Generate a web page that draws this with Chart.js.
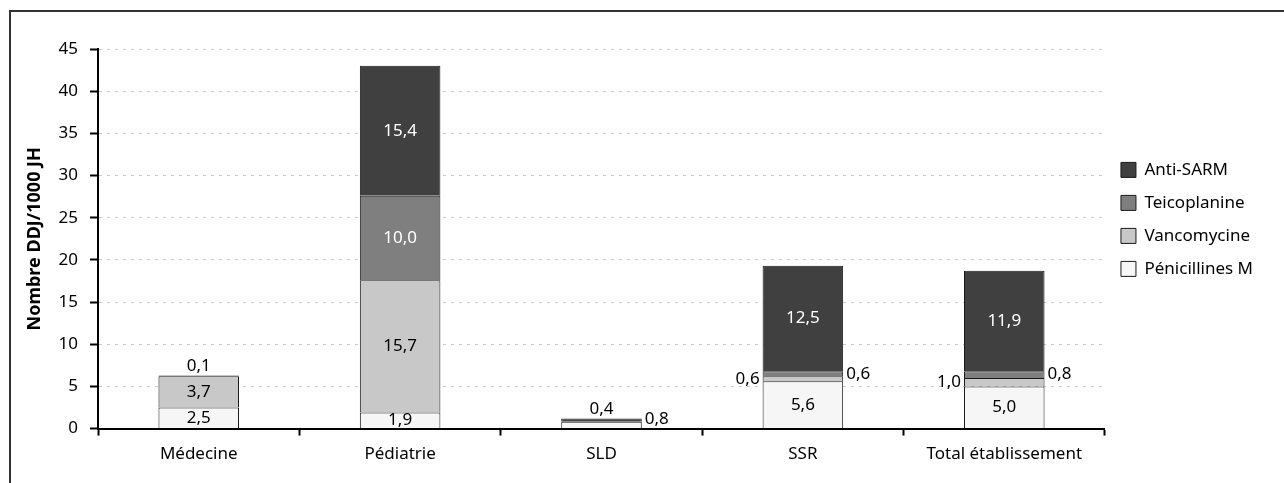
<!DOCTYPE html>
<html>
<head>
<meta charset="utf-8">
<script src="https://cdn.jsdelivr.net/npm/chart.js@4.4.1/dist/chart.umd.min.js"></script>
<style>
  html, body { margin: 0; padding: 0; background: #fff; overflow: hidden; width: 1284px; height: 483px; }
  #frame { position: absolute; left: 9px; top: 10px; width: 1400px; height: 600px; border: 2px solid #333; box-sizing: border-box; }
  #chart { position: absolute; left: 0; top: 0; }
</style>
</head>
<body>
<div id="frame"></div>
<canvas id="chart" width="1284" height="483"></canvas>
<script>
// Services and DDJ/1000 JH per antibiotic family
const categories = ['Médecine', 'Pédiatrie', 'SLD', 'SSR', 'Total établissement'];
const penicillinesM = [2.5, 1.9, 0.8, 5.6, 5.0];
const vancomycine  = [3.7, 15.7, null, 0.6, 1.0];
const teicoplanine = [null, 10.0, null, 0.6, 0.8];
const antiSARM     = [0.1, 15.4, 0.4, 12.5, 11.9];
const yTickValues  = [0, 5, 10, 15, 20, 25, 30, 35, 40, 45];
const yTitle = 'Nombre DDJ/1000 JH';

const FONT = "'Noto Sans', sans-serif";
const SIZE = 17;
Chart.defaults.font.family = FONT;
Chart.defaults.font.size = SIZE;
Chart.defaults.color = '#000';

// Writes each segment's value, inside the bar when it fits, beside or above otherwise
const segmentLabels = {
  id: 'segmentLabels',
  afterDatasetsDraw(chart, args, opts) {
    const ctx = chart.ctx;
    const zeroY = chart.scales.y.getPixelForValue(0);
    ctx.save();
    ctx.font = SIZE + 'px ' + FONT;
    chart.data.datasets.forEach((ds, di) => {
      const meta = chart.getDatasetMeta(di);
      if (meta.hidden) return;
      meta.data.forEach((bar, i) => {
        const v = ds.data[i];
        if (v == null) return;
        const p = bar.getProps(['x', 'y', 'base', 'width'], true);
        const h = Math.abs(p.base - p.y);
        const mid = (p.y + p.base) / 2;
        const text = v.toFixed(1).replace('.', ',');
        const isTop = chart.data.datasets.slice(di + 1).every(d => d.data[i] == null);
        if (h >= opts.minInside) {
          ctx.fillStyle = ds.labelColor;
          ctx.textAlign = 'center';
          ctx.textBaseline = 'middle';
          ctx.fillText(text, p.x, mid);
        } else if (isTop) {
          ctx.fillStyle = '#000';
          ctx.textAlign = 'center';
          ctx.textBaseline = 'bottom';
          ctx.fillText(text, p.x, Math.min(p.y, p.base) - 1);
        } else {
          ctx.fillStyle = '#000';
          ctx.textBaseline = 'middle';
          const ly = Math.min(mid, zeroY - 9);
          if (ds.labelSide === 'left') {
            ctx.textAlign = 'right';
            ctx.fillText(text, p.x - p.width / 2 - 3, ly);
          } else {
            ctx.textAlign = 'left';
            ctx.fillText(text, p.x + p.width / 2 + 3, ly);
          }
        }
      });
    });
    ctx.restore();
  }
};

const barStyle = { borderColor: '#1a1a1a', borderWidth: 1, barPercentage: 0.4, categoryPercentage: 1 };

new Chart(document.getElementById('chart'), {
  type: 'bar',
  data: {
    labels: categories,
    datasets: [
      { label: 'Pénicillines M', data: penicillinesM, backgroundColor: '#f6f6f6', labelColor: '#000', labelSide: 'right', ...barStyle },
      { label: 'Vancomycine', data: vancomycine, backgroundColor: '#c8c8c8', labelColor: '#000', labelSide: 'left', ...barStyle },
      { label: 'Teicoplanine', data: teicoplanine, backgroundColor: '#7f7f7f', labelColor: '#fff', labelSide: 'right', ...barStyle },
      { label: 'Anti-SARM', data: antiSARM, backgroundColor: '#404040', labelColor: '#fff', labelSide: 'right', ...barStyle }
    ]
  },
  options: {
    responsive: false,
    animation: false,
    layout: { padding: { left: 22, top: 49, right: 21, bottom: 11 } },
    plugins: {
      tooltip: { enabled: false },
      segmentLabels: { minInside: 15 },
      legend: {
        position: 'right',
        fullSize: false,
        align: 'start',
        reverse: true,
        title: { display: true, text: '', padding: { top: 0, bottom: 76 } },
        labels: { boxWidth: 15, boxHeight: 15, padding: 16, color: '#000', font: { size: SIZE } }
      }
    },
    scales: {
      x: {
        stacked: true,
        grid: { offset: true, drawOnChartArea: false, tickLength: 7, tickColor: '#000', tickWidth: 2 },
        border: { color: '#000', width: 2 },
        ticks: { padding: 8, color: '#000', font: { size: SIZE } }
      },
      y: {
        stacked: true,
        min: yTickValues[0],
        max: yTickValues[yTickValues.length - 1],
        afterBuildTicks(scale) { scale.ticks = yTickValues.map(v => ({ value: v })); },
        grid: { color: '#c8c8c8', lineWidth: 1, tickLength: 8, tickColor: '#000', tickWidth: 2, tickBorderDash: [] },
        border: { color: '#000', width: 2, dash: [3, 5] },
        ticks: { padding: 12, color: '#000', font: { size: SIZE } },
        title: { display: true, text: yTitle, color: '#000', font: { size: 18, weight: 'bold' }, padding: { top: 2, bottom: 1 } }
      }
    }
  },
  plugins: [segmentLabels]
});
</script>
</body>
</html>
